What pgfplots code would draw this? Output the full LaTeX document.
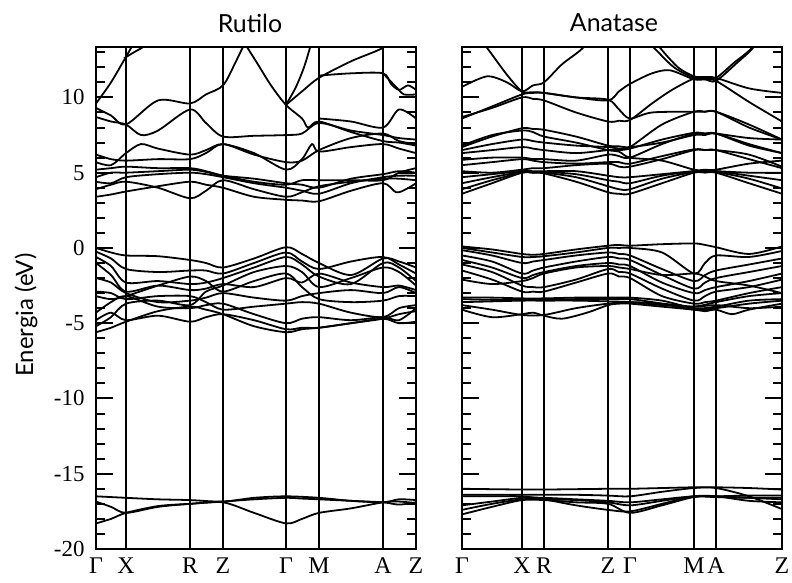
\documentclass[border=0pt]{standalone}
\usepackage{fontspec}
\setmainfont{Liberation Serif}
\newfontfamily\titlefont{Lato}
\usepackage{pgfplots}
\pgfplotsset{compat=1.18}

\tikzset{b/.style={black, solid, line width=1.8pt, smooth, mark=none}}
\pgfplotsset{
  bandpanel/.style={
    anchor=south west, scale only axis, width=320bp, height=502bp,
    xmin=0, xmax=320, ymin=-20, ymax=13.35,
    axis line style={line width=1.8pt},
    xmajorgrids, major grid style={black, line width=1.4pt},
    xtick style={line width=1.4pt, black},
    ytick={-20,-15,-10,-5,0,5,10}, minor ytick={-19,...,13},
    tick pos=both, tick align=inside,
    major tick length=17bp, minor tick length=9bp,
    ytick style={line width=2pt, black},
    xticklabel style={font=\rmfamily\fontsize{24}{24}\selectfont, yshift=-5bp},
    yticklabel style={font=\rmfamily\fontsize{23}{23}\selectfont, xshift=-8bp},
  },
}

\begin{document}
\begin{tikzpicture}
\path[use as bounding box] (0,0) rectangle (792bp,583bp);

% ---------------- Rutilo ----------------
\begin{axis}[bandpanel, at={(96bp,34bp)},
  xtick={0,30,94,127,190,223,287,320},
  xticklabels={Γ,X,R,Z,Γ,M,A,Z},
  yticklabels={-20,-15,-10,-5,0,5,10}]
% conduction
\addplot[b] coordinates {(0,3.4)(15,3.55)(30,3.75)(62,4.1)(94,4.4)(110,4.2)(127,4.0)(158,3.4)(190,3.2)(206,3.15)(223,3.1)(255,3.8)(287,4.3)(300,3.7)(310,3.9)(320,4.3)};
\addplot[b] coordinates {(0,3.9)(15,4.2)(30,4.4)(62,4.0)(94,3.3)(110,3.8)(127,4.5)(158,3.9)(190,3.4)(206,3.7)(223,4.1)(255,4.4)(287,4.6)(303,4.6)(320,4.5)};
\addplot[b] coordinates {(0,4.4)(15,4.3)(30,4.7)(62,4.9)(94,5.0)(110,4.9)(127,4.7)(158,4.3)(190,4.0)(206,3.8)(223,3.6)(255,4.3)(287,4.7)(303,4.8)(320,4.8)};
\addplot[b] coordinates {(0,4.7)(15,5.0)(30,5.0)(62,5.1)(94,5.2)(110,5.05)(127,4.8)(158,4.6)(190,4.3)(206,4.2)(223,4.0)(255,4.6)(287,4.9)(303,5.1)(320,5.0)};
\addplot[b] coordinates {(0,5.2)(15,5.3)(30,5.4)(62,5.3)(94,5.3)(110,5.1)(127,4.8)(158,4.4)(190,4.2)(206,4.5)(223,4.5)(255,4.5)(287,4.5)(303,5.0)(320,5.3)};
\addplot[b] coordinates {(0,5.7)(15,5.5)(30,6.3)(45,6.9)(62,6.6)(94,6.2)(110,6.5)(127,6.9)(158,6.3)(190,5.2)(206,5.9)(216,6.9)(223,6.4)(255,6.7)(287,6.9)(303,6.6)(320,6.3)};
\addplot[b] coordinates {(0,6.2)(15,5.9)(30,5.8)(62,5.9)(94,5.9)(110,6.3)(127,6.9)(158,6.2)(190,5.7)(206,5.8)(223,6.5)(255,7.3)(287,7.6)(303,7.1)(320,6.9)};
\addplot[b] coordinates {(0,8.7)(15,8.4)(30,8.2)(45,7.5)(62,7.8)(94,9.2)(110,8.3)(127,7.4)(158,7.45)(190,7.5)(206,7.6)(223,8.3)(255,7.8)(287,7.5)(303,7.3)(320,7.2)};
\addplot[b] coordinates {(0,9.3)(15,8.8)(30,8.2)(62,9.8)(94,9.6)(110,10.2)(127,10.8)(140,12.4)(155,14.5)};
\addplot[b] coordinates {(140,14.5)(160,12.4)(175,10.8)(190,9.5)(206,8.6)(212,8.0)(223,8.4)(255,7.7)(287,7.1)(303,7.0)(320,6.8)};
\addplot[b] coordinates {(0,9.6)(15,11.0)(30,12.7)(36,13.4)(45,14.5)};
\addplot[b] coordinates {(28,12.6)(38,13.0)(48,13.4)(55,14.0)};
\addplot[b] coordinates {(190,9.5)(206,10.4)(223,11.3)(255,12.4)(287,13.3)(300,14.2)};
\addplot[b] coordinates {(190,9.5)(200,10.7)(208,12.0)(214,13.3)(218,14.2)};
\addplot[b] coordinates {(223,11.45)(255,11.6)(287,11.6)(295,10.9)(303,10.5)(312,10.8)(320,10.5)};
\addplot[b] coordinates {(287,11.6)(300,10.7)(308,10.2)(320,10.2)};
\addplot[b] coordinates {(223,8.6)(255,8.4)(287,8.0)(303,9.2)(320,8.6)};
% valence
\addplot[b] coordinates {(0,0.0)(15,-0.3)(30,-0.5)(62,-0.55)(94,-0.8)(110,-1.0)(127,-1.3)(158,-0.7)(190,0.05)(206,-0.4)(223,-1.0)(255,-1.8)(287,-0.7)(303,-0.9)(320,-1.3)};
\addplot[b] coordinates {(0,-0.25)(15,-0.7)(30,-1.4)(62,-1.6)(94,-1.5)(110,-1.5)(127,-1.7)(158,-1.0)(190,-0.3)(206,-0.9)(223,-1.4)(255,-0.9)(287,-0.6)(303,-1.1)(320,-1.7)};
\addplot[b] coordinates {(0,-0.6)(15,-1.2)(30,-2.3)(62,-2.2)(94,-2.4)(110,-2.3)(127,-2.0)(158,-1.3)(190,-0.6)(206,-1.1)(223,-1.9)(255,-2.4)(287,-1.0)(303,-1.3)(320,-2.2)};
\addplot[b] coordinates {(0,-1.0)(15,-1.8)(30,-2.9)(62,-2.5)(94,-2.8)(110,-2.7)(127,-2.4)(158,-2.6)(190,-2.0)(206,-2.3)(223,-1.7)(255,-2.3)(287,-2.6)(303,-2.5)(320,-2.8)};
\addplot[b] coordinates {(0,-2.0)(15,-2.3)(30,-3.0)(62,-3.6)(94,-3.5)(110,-3.3)(127,-3.0)(158,-3.3)(190,-3.5)(206,-3.2)(223,-3.0)(255,-2.8)(287,-3.0)(303,-2.6)(320,-3.0)};
\addplot[b] coordinates {(0,-2.9)(15,-3.0)(30,-3.4)(62,-3.2)(94,-3.2)(110,-3.6)(127,-4.1)(158,-3.9)(190,-3.7)(206,-3.6)(223,-3.7)(255,-4.3)(287,-4.6)(303,-4.0)(320,-3.8)};
\addplot[b] coordinates {(0,-4.3)(15,-3.6)(30,-3.2)(62,-3.9)(94,-4.0)(110,-3.8)(127,-3.7)(158,-4.4)(190,-5.0)(206,-4.7)(223,-4.6)(255,-4.8)(287,-4.6)(303,-4.8)(320,-4.0)};
\addplot[b] coordinates {(0,-4.8)(15,-4.3)(30,-4.8)(62,-4.5)(94,-4.9)(110,-4.6)(127,-4.4)(158,-4.8)(190,-5.4)(206,-5.3)(223,-5.3)(255,-5.0)(287,-4.7)(303,-4.4)(320,-4.2)};
\addplot[b] coordinates {(0,-5.6)(15,-5.3)(30,-4.9)(62,-4.2)(94,-3.9)(110,-4.1)(127,-4.4)(158,-5.2)(190,-5.6)(206,-5.4)(223,-5.3)(255,-5.0)(287,-4.7)(303,-5.0)(320,-4.9)};
\addplot[b] coordinates {(0,-5.2)(15,-4.6)(30,-3.7)(62,-3.5)(94,-3.8)(110,-2.9)(127,-2.5)(158,-1.6)(190,-1.2)(206,-1.6)(223,-2.6)(255,-2.0)(287,-1.3)(303,-1.6)(320,-2.5)};
\addplot[b] coordinates {(0,-3.2)(15,-3.4)(30,-3.2)(62,-2.5)(94,-1.9)(110,-2.2)(127,-2.9)(158,-2.2)(190,-1.7)(206,-2.6)(223,-3.4)(255,-3.6)(287,-3.5)(303,-3.2)(320,-3.2)};
% semicore
\addplot[b] coordinates {(0,-16.5)(30,-16.6)(62,-16.7)(94,-16.75)(127,-16.85)(158,-16.6)(190,-16.5)(223,-16.6)(255,-16.8)(287,-16.9)(303,-16.7)(320,-16.75)};
\addplot[b] coordinates {(0,-16.85)(15,-17.2)(30,-17.6)(62,-17.2)(94,-17.0)(127,-16.85)(158,-16.7)(190,-16.6)(206,-16.65)(223,-16.7)(255,-16.8)(287,-16.9)(303,-17.05)(320,-16.9)};
\addplot[b] coordinates {(0,-18.3)(15,-18.0)(30,-17.6)(62,-17.15)(94,-17.0)(127,-16.9)(158,-17.6)(190,-18.3)(206,-18.0)(223,-17.6)(255,-17.3)(287,-16.9)(303,-16.85)(320,-16.95)};
\end{axis}

% ---------------- Anatase ----------------
\begin{axis}[bandpanel, at={(462bp,34bp)},
  xtick={0,60,82,146,168,232,254,320},
  xticklabels={Γ,X,R,Z,Γ,M,A,Z},
  yticklabels={}]
% conduction, lower manifold
\addplot[b] coordinates {(0,3.6)(30,4.3)(60,5.0)(71,5.0)(82,4.95)(114,4.4)(146,3.7)(157,3.6)(168,3.6)(200,4.3)(232,5.0)(243,5.0)(254,5.0)(287,4.3)(320,3.6)};
\addplot[b] coordinates {(0,3.9)(30,4.5)(60,5.0)(71,5.0)(82,5.0)(114,4.7)(146,4.1)(157,3.9)(168,3.9)(200,4.6)(232,5.05)(243,5.05)(254,5.05)(287,4.6)(320,3.95)};
\addplot[b] coordinates {(0,4.3)(30,4.7)(60,5.05)(71,5.05)(82,5.05)(114,4.9)(146,4.5)(157,4.4)(168,4.3)(200,4.8)(232,5.1)(243,5.1)(254,5.1)(287,4.8)(320,4.5)};
\addplot[b] coordinates {(0,4.7)(30,4.9)(60,5.1)(71,5.1)(82,5.1)(114,5.1)(146,4.8)(157,4.7)(168,4.7)(200,4.9)(232,5.1)(243,5.1)(254,5.1)(287,5.0)(320,5.0)};
\addplot[b] coordinates {(0,5.1)(30,5.0)(60,5.2)(71,5.3)(82,5.3)(114,5.5)(146,5.6)(157,5.4)(168,5.4)(200,5.9)(232,6.5)(243,6.5)(254,6.5)(287,5.9)(320,5.3)};
\addplot[b] coordinates {(0,5.5)(30,5.7)(60,5.9)(71,5.8)(82,5.7)(114,5.6)(146,5.7)(157,5.7)(168,5.6)(200,6.1)(232,6.55)(243,6.5)(254,6.5)(287,6.2)(320,5.4)};
\addplot[b] coordinates {(0,5.85)(30,6.0)(60,6.0)(71,5.9)(82,5.9)(114,5.8)(146,6.2)(157,6.1)(168,6.0)(200,6.9)(232,7.6)(243,7.6)(254,7.6)(287,6.8)(320,6.3)};
\addplot[b] coordinates {(0,6.3)(30,6.5)(60,6.7)(71,6.6)(82,6.5)(114,6.3)(146,6.5)(157,6.5)(168,6.6)(200,7.2)(232,7.65)(243,7.6)(254,7.6)(287,7.3)(320,7.2)};
\addplot[b] coordinates {(0,6.5)(30,6.9)(60,7.2)(71,7.1)(82,7.0)(114,6.8)(146,6.7)(157,6.6)(168,6.7)(200,8.2)(232,9.05)(243,9.05)(254,9.05)(287,8.2)(320,7.2)};
\addplot[b] coordinates {(0,6.7)(30,7.4)(60,7.95)(71,7.9)(82,7.85)(114,7.4)(146,6.8)(157,6.75)(168,6.7)(200,7.0)(232,7.5)(243,7.5)(254,7.6)(287,6.9)(320,6.3)};
\addplot[b] coordinates {(0,6.8)(30,7.5)(60,7.8)(71,7.7)(82,7.4)(114,7.0)(146,6.5)(157,6.4)(168,6.0)(200,5.8)(232,5.2)(243,5.2)(254,5.2)(287,5.6)(320,5.8)};
% conduction, upper
\addplot[b] coordinates {(0,8.6)(30,9.4)(60,10.2)(71,10.3)(82,10.3)(114,10.0)(146,9.8)(157,10.4)(168,10.9)(190,11.6)(208,11.8)(232,11.2)(243,11.2)(254,11.1)(275,12.3)(291,13.3)(300,14.5)};
\addplot[b] coordinates {(0,8.7)(30,9.3)(60,10.0)(71,9.9)(82,9.8)(114,9.0)(146,8.4)(157,8.45)(168,8.5)(190,9.6)(210,10.5)(232,11.25)(243,11.2)(254,11.1)(287,9.7)(320,8.4)};
\addplot[b] coordinates {(10,14.6)(25,13.3)(45,11.5)(60,10.4)(71,10.35)(82,10.3)(114,10.0)(146,9.85)(157,9.2)(168,8.6)(190,9.0)(232,9.05)(243,9.05)(254,9.05)(287,8.0)(320,7.2)};
\addplot[b] coordinates {(0,10.7)(25,11.4)(45,11.0)(60,10.4)(71,10.8)(82,11.0)(100,12.2)(121,13.3)(131,14.5)};
\addplot[b] coordinates {(175,14.5)(192,13.3)(212,12.0)(232,11.3)(243,11.3)(254,11.3)(272,12.3)(290,13.3)(300,14.5)};
\addplot[b] coordinates {(185,14.5)(198,13.3)(216,12.0)(232,11.4)(243,11.35)(254,11.3)(287,10.6)(320,10.3)};
% valence
\addplot[b] coordinates {(0,0.1)(30,-0.1)(60,-0.4)(71,-0.45)(82,-0.4)(114,-0.1)(146,0.15)(157,0.2)(168,0.15)(200,0.25)(232,0.3)(243,0.2)(254,0.05)(287,-0.4)(320,0.1)};
\addplot[b] coordinates {(0,0.0)(30,-0.3)(60,-0.6)(71,-0.6)(82,-0.55)(114,-0.3)(146,0.0)(157,0.0)(168,0.0)(200,-0.3)(232,-1.7)(243,-1.0)(254,-0.5)(287,-0.6)(320,-0.2)};
\addplot[b] coordinates {(0,-0.15)(30,-0.5)(60,-1.0)(71,-0.9)(82,-0.8)(114,-0.5)(146,-0.3)(157,-0.4)(168,-0.5)(200,-1.4)(232,-2.2)(243,-1.8)(254,-1.5)(287,-1.1)(320,-0.7)};
\addplot[b] coordinates {(0,-0.5)(30,-0.9)(60,-1.7)(71,-1.5)(82,-1.3)(114,-0.9)(146,-0.6)(157,-0.7)(168,-0.8)(200,-1.8)(232,-2.7)(243,-2.3)(254,-2.0)(287,-1.6)(320,-1.2)};
\addplot[b] coordinates {(0,-0.8)(30,-1.3)(60,-2.0)(71,-1.8)(82,-1.6)(114,-1.2)(146,-1.0)(157,-1.1)(168,-1.2)(200,-2.3)(232,-3.0)(243,-2.8)(254,-2.6)(287,-2.2)(320,-1.7)};
\addplot[b] coordinates {(0,-1.1)(30,-1.6)(60,-2.5)(71,-2.6)(82,-2.6)(114,-2.1)(146,-1.4)(157,-1.6)(168,-1.7)(200,-2.7)(232,-3.5)(243,-3.2)(254,-2.9)(287,-2.6)(320,-2.1)};
\addplot[b] coordinates {(0,-1.5)(30,-2.1)(60,-2.9)(71,-2.9)(82,-2.9)(114,-2.3)(146,-1.7)(157,-1.9)(168,-2.0)(200,-3.2)(232,-3.7)(243,-3.6)(254,-3.5)(287,-3.0)(320,-2.6)};
\addplot[b] coordinates {(0,-2.1)(30,-2.4)(60,-2.2)(71,-2.0)(82,-1.7)(114,-1.3)(146,-1.2)(157,-1.3)(168,-1.4)(200,-1.8)(232,-1.7)(243,-1.9)(254,-2.2)(287,-2.5)(320,-3.0)};
\addplot[b] coordinates {(0,-3.3)(30,-3.3)(60,-3.35)(82,-3.35)(114,-3.3)(146,-3.3)(168,-3.3)(200,-3.5)(232,-4.0)(254,-3.9)(287,-3.5)(320,-3.4)};
\addplot[b] coordinates {(0,-3.4)(30,-3.45)(60,-3.45)(82,-3.45)(114,-3.4)(146,-3.4)(168,-3.4)(200,-3.7)(232,-4.1)(254,-4.0)(287,-3.7)(320,-3.5)};
\addplot[b] coordinates {(0,-3.6)(30,-3.55)(60,-3.5)(82,-3.5)(114,-3.5)(146,-3.55)(168,-3.6)(200,-3.8)(232,-3.9)(254,-3.6)(287,-3.2)(320,-3.0)};
\addplot[b] coordinates {(0,-4.1)(30,-4.6)(60,-4.4)(71,-4.3)(82,-4.5)(100,-4.7)(125,-4.3)(146,-3.8)(157,-3.7)(168,-3.7)(200,-3.9)(232,-4.1)(243,-4.2)(254,-4.1)(270,-4.4)(287,-4.1)(320,-3.7)};
\addplot[b] coordinates {(0,-3.8)(30,-4.1)(60,-4.45)(82,-4.45)(114,-4.0)(146,-3.7)(168,-3.6)(200,-3.7)(232,-3.9)(254,-3.8)(287,-4.0)(320,-3.9)};
% semicore
\addplot[b] coordinates {(0,-16.0)(60,-16.05)(82,-16.05)(146,-16.0)(168,-16.0)(200,-15.95)(232,-15.9)(254,-15.9)(287,-15.95)(320,-16.05)};
\addplot[b] coordinates {(0,-16.4)(30,-16.4)(60,-16.4)(82,-16.4)(114,-16.4)(146,-16.45)(168,-16.5)(200,-16.2)(232,-15.95)(254,-15.95)(287,-16.5)(320,-17.35)};
\addplot[b] coordinates {(0,-16.5)(30,-16.5)(60,-16.5)(82,-16.7)(114,-17.1)(146,-17.4)(168,-17.5)(200,-17.0)(232,-16.5)(254,-16.5)(287,-16.8)(320,-16.9)};
\addplot[b] coordinates {(0,-17.1)(30,-16.85)(60,-16.6)(82,-16.6)(114,-16.7)(146,-16.8)(168,-16.9)(200,-16.7)(232,-16.5)(254,-16.5)(287,-16.6)(320,-16.7)};
\addplot[b] coordinates {(0,-17.7)(30,-17.2)(60,-16.75)(82,-16.75)(114,-16.9)(146,-17.0)(168,-17.6)(200,-17.1)(232,-16.55)(254,-16.55)(287,-16.6)(320,-16.6)};
\addplot[b] coordinates {(0,-17.4)(30,-17.0)(60,-16.7)(82,-16.7)(114,-16.75)(146,-16.9)(168,-17.1)(200,-16.8)(232,-16.5)(254,-16.5)(287,-16.45)(320,-16.45)};
\end{axis}

\node[anchor=base, font=\titlefont\fontsize{25}{25}\selectfont] at (250bp,550bp) {Rutilo};
\node[anchor=base, font=\titlefont\fontsize{25}{25}\selectfont] at (614bp,551bp) {Anatase};
\node[anchor=base, rotate=90, font=\titlefont\fontsize{24}{24}\selectfont] at (33bp,268bp) {Energia (eV)};
\end{tikzpicture}
\end{document}
